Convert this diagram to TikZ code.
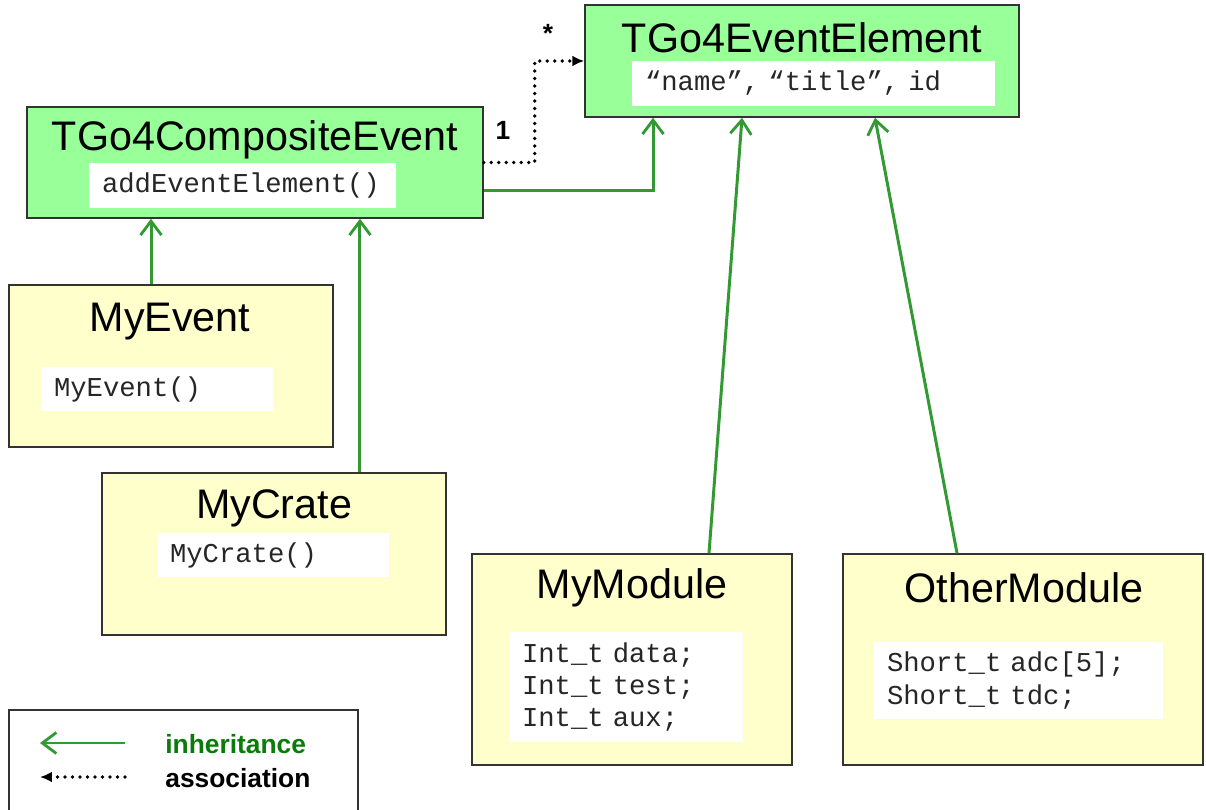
\documentclass[tikz,border=0pt]{standalone}
\usepackage{fontspec}
\setmainfont{Liberation Sans}
\setmonofont{Liberation Mono}
\usetikzlibrary{positioning, arrows.meta, calc}
\definecolor{clsgreen}{HTML}{99FF99}
\definecolor{clsyellow}{HTML}{FFFFCC}
\definecolor{inhgreen}{HTML}{339933}
\definecolor{txtgreen}{HTML}{0A7A0A}
\definecolor{frame}{HTML}{333333}

\begin{document}
\begin{tikzpicture}[x=0.02cm, y=-0.02cm,
  cls/.style={rectangle, draw=frame, line width=0.9pt, inner sep=0pt},
  base/.style={cls, fill=clsgreen},
  user/.style={cls, fill=clsyellow},
  title/.style={inner sep=0pt, font=\fontsize{23.5}{28}\selectfont},
  memb/.style={fill=white, inner xsep=0.26cm, inner ysep=0pt, align=left, text=black!85,
    font=\ttfamily\fontsize{15.5}{18.4}\selectfont},
  inh/.style={-{Straight Barb[length=0.28cm, width=0.42cm, line width=1.6pt]}, inhgreen, line width=1.7pt},
  assoc/.style={-{Latex[length=0.24cm, width=0.22cm]}, black, line width=2.1pt, line cap=round,
    dash pattern=on 0pt off 0.15cm},
  mult/.style={font=\bfseries\fontsize{15}{18}\selectfont, inner sep=0pt}]
\useasboundingbox (0,0) rectangle (1206,810);
% base classes
\node[base, minimum width=8.68cm, minimum height=2.24cm] (elem) at (802,61) {};
\node[title] (elemT) at (802,38) {TGo4EventElement};
\node[memb, text width=6.74cm, minimum height=0.9cm] (elemM) at (813.5,83.5) {“name”, “title”, id};
\node[base, minimum width=9.12cm, minimum height=2.22cm] (comp) at (255,162.5) {};
\node[title] (compT) at (255,140) {TGo4CompositeEvent};
\node[memb, text width=5.62cm, minimum height=0.9cm] (compM) at (242.5,185.5) {addEventElement()};
% user classes
\node[user, minimum width=6.48cm, minimum height=3.24cm] (myev) at (171,366) {};
\node[title] (myevT) at (170,322) {MyEvent};
\node[memb, text width=4.12cm, minimum height=0.88cm] (myevM) at (157,389) {MyEvent()};
\node[user, minimum width=6.88cm, minimum height=3.24cm] (crate) at (274,554) {};
\node[title] (crateT) at (274,508) {MyCrate};
\node[memb, text width=4.12cm, minimum height=0.88cm] (crateM) at (273,555) {MyCrate()};
\node[user, minimum width=6.4cm, minimum height=4.22cm] (mymod) at (632,659.5) {};
\node[title] (mymodT) at (632,588) {MyModule};
\node[memb, text width=4.16cm, minimum height=2.2cm] (mymodM) at (626,687) {Int\_t data;\\Int\_t test;\\Int\_t aux;};
\node[user, minimum width=7.2cm, minimum height=4.22cm] (other) at (1023,659.5) {};
\node[title] (otherT) at (1024,588) {OtherModule};
\node[memb, text width=5.26cm, minimum height=1.54cm] (otherM) at (1018.5,680.5) {Short\_t adc[5];\\Short\_t tdc;};
% inheritance
\draw[inh] ([xshift=-0.4cm]myev.north) -- ([xshift=-0.4cm]myev.north |- comp.south);
\draw[inh] ([xshift=1.72cm]crate.north) -- ([xshift=1.72cm]crate.north |- comp.south);
\draw[inh] ([yshift=-0.57cm]comp.east) -| ([xshift=-2.98cm]elem.south);
\draw[inh] ([xshift=1.54cm]mymod.north) -- ([xshift=-1.2cm]elem.south);
\draw[inh] ([xshift=-1.32cm]other.north) -- ([xshift=1.46cm]elem.south);
% association
\draw[assoc] (comp.east) -- ++(1.02cm,0) |- (elem.west);
\node[mult] (one) at (503,130) {1};
\node[mult] (many) at (548,33) {*};
% legend
\node[cls, fill=white, minimum width=6.98cm, minimum height=2.1cm] (legend) at (183.5,762.5) {};
\node[mult, anchor=west, txtgreen] (inhT) at (165,744) {inheritance};
\node[mult, anchor=west] (assocT) at (165,778) {association};
\coordinate (inhS) at (125,743);
\coordinate (inhE) at (40,743);
\coordinate (assocS) at (125,777);
\coordinate (assocE) at (40,777);
\draw[inh] (inhS) -- (inhE);
\draw[assoc] (assocS) -- (assocE);
\end{tikzpicture}
\end{document}
